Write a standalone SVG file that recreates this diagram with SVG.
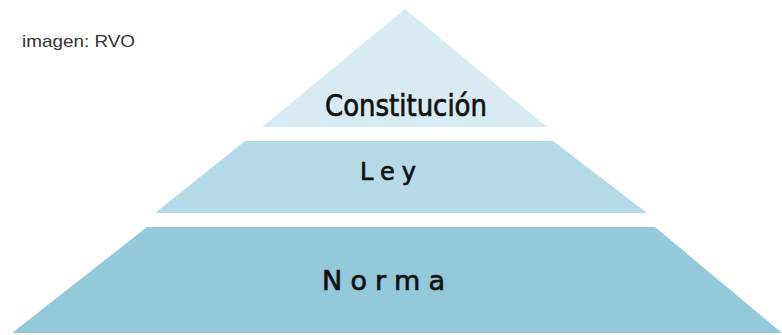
<svg xmlns="http://www.w3.org/2000/svg" width="782" height="335" viewBox="0 0 782 335">
<style>
.lbl{font-family:"DejaVu Sans","Liberation Sans",sans-serif;fill:#111;stroke:#111;stroke-width:0.7;}
.cap{font-family:"Liberation Sans","DejaVu Sans",sans-serif;fill:#333;}
</style>
<rect width="782" height="335" fill="#ffffff"/>
<text class="cap" x="22" y="47" font-size="17" textLength="113" lengthAdjust="spacingAndGlyphs">imagen: RVO</text>
<g id="constitucion">
<polygon points="405,9 547,127 262,127" fill="#d8ebf2"/>
<text class="lbl" x="325" y="116" font-size="30" textLength="162" lengthAdjust="spacingAndGlyphs">Constitución</text>
</g>
<g id="ley">
<polygon points="245,141 553,141 647,213 155,213" fill="#b4d9e7"/>
<text class="lbl" x="360" y="180" font-size="24" textLength="56" lengthAdjust="spacing">Ley</text>
</g>
<g id="norma">
<polygon points="147,227 655,227 782,333 12,333" fill="#94c9dc"/>
<text class="lbl" x="322" y="290" font-size="27" textLength="123" lengthAdjust="spacing">Norma</text>
</g>
<g id="connectors"/>
</svg>
